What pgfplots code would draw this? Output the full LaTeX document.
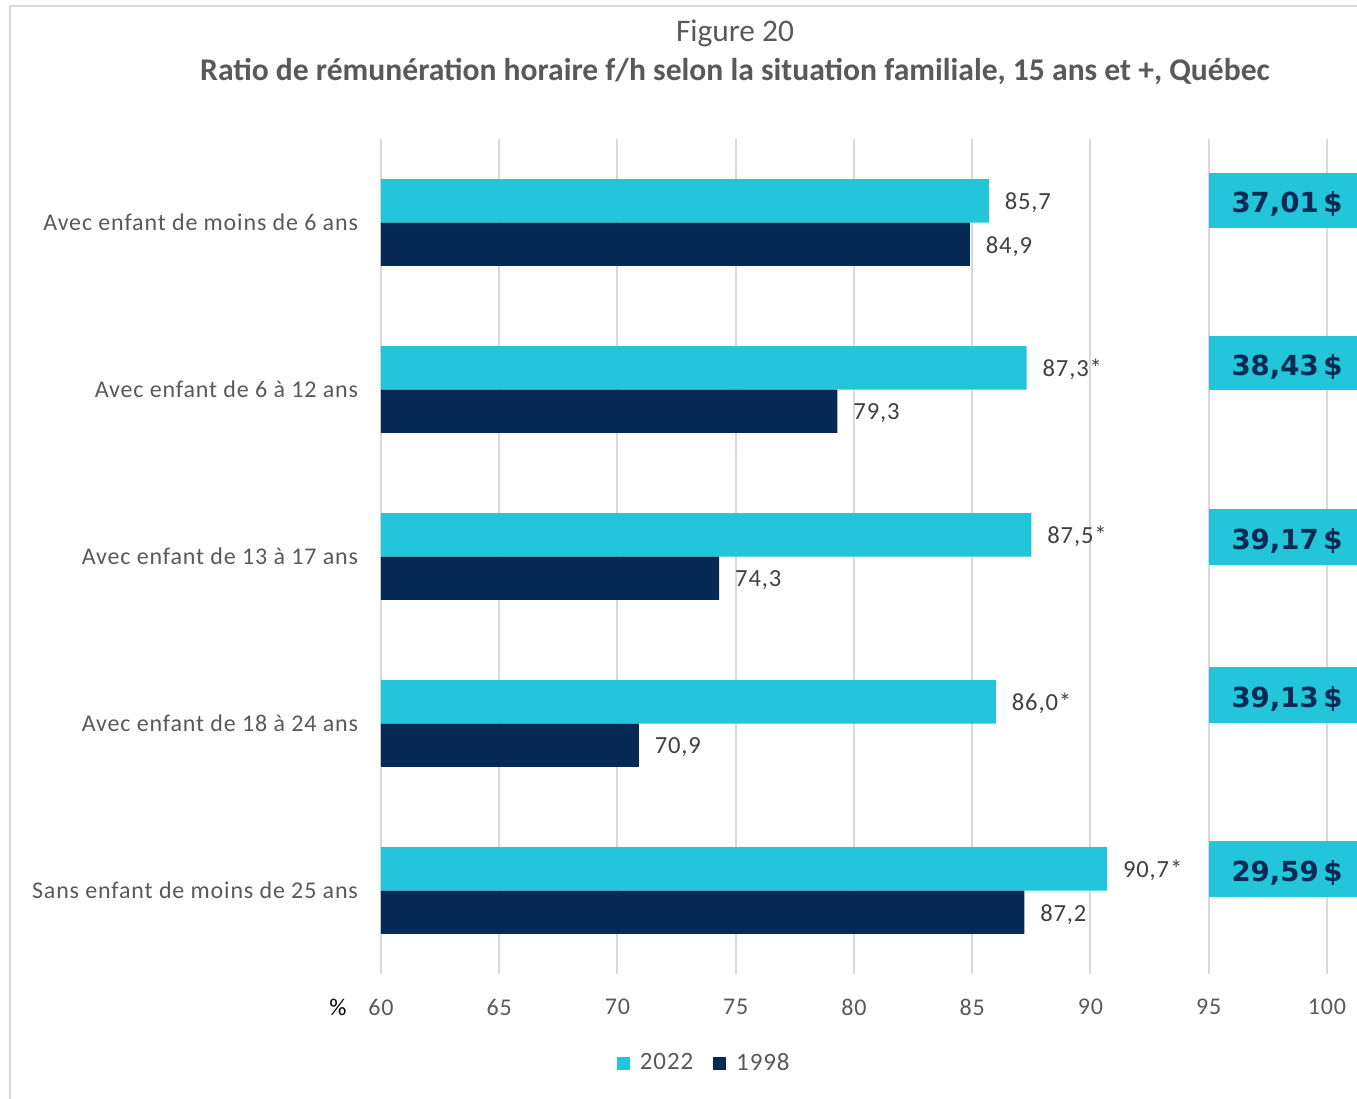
\documentclass[border=0pt]{standalone}
\usepackage{pgfplots}
\pgfplotsset{compat=1.18}
\usepackage{pgfplotstable}
\usepackage{fontspec}
\setmainfont{Carlito}
\newfontfamily\lsp[LetterSpace=3.5]{Carlito}
\newfontfamily\verd{DejaVu Sans}
\definecolor{cy}{HTML}{22C5D9}
\definecolor{nv}{HTML}{062A55}
\definecolor{txt}{HTML}{595959}
\definecolor{lab}{HTML}{404040}
\definecolor{grd}{HTML}{D9D9D9}

\pgfplotstableread{
y x lab
-0.13 85.7 85,7
0.87 87.3 87,3*
1.87 87.5 87,5*
2.87 86.0 86,0*
3.87 90.7 90,7*
}\tnew
\pgfplotstableread{
y x lab
0.13 84.9 84,9
1.13 79.3 79,3
2.13 74.3 74,3
3.13 70.9 70,9
4.13 87.2 87,2
}\told

\begin{document}
\begin{tikzpicture}
\useasboundingbox (0,0) rectangle (678.5pt,549.5pt);
\draw[grd, line width=1pt] (5pt,0) -- (5pt,546.5pt) -- (700pt,546.5pt);
\node[txt, font=\fontsize{15.7}{18}\selectfont] at (367.5pt,533pt) {Figure 20};
\node[txt, font=\fontsize{15.8}{18}\selectfont\bfseries] at (367.5pt,513.5pt) {Ratio de rémunération horaire f/h selon la situation familiale, 15 ans et +, Québec};
\node[black, font=\lsp\fontsize{12}{14}\selectfont] at (169pt,46pt) {\%};
\begin{axis}[at={(190.5pt,62.5pt)}, anchor=south west, scale only axis,
  width=488pt, height=417.5pt,
  xmin=60, xmax=101.27, ymin=-0.5, ymax=4.5, y dir=reverse,
  xtick={60,65,...,100}, ytick={0,1,2,3,4},
  yticklabels={Avec enfant de moins de 6 ans, Avec enfant de 6 à 12 ans, Avec enfant de 13 à 17 ans, Avec enfant de 18 à 24 ans, Sans enfant de moins de 25 ans},
  xmajorgrids, major grid style={grd, line width=1pt},
  axis line style={draw=none}, major tick length=0pt,
  tick label style={txt, font=\lsp\fontsize{12}{14}\selectfont},
  /pgf/number format/assume math mode=true,
  xticklabel style={yshift=-9pt}, yticklabel style={xshift=-8pt},
  legend style={at={(0.324,-0.1066)}, anchor=center, xshift=4pt, draw=none, legend columns=-1,
    font=\lsp\fontsize{12.5}{14}\selectfont, text=txt,
    /tikz/every even column/.append style={column sep=8pt}},
  legend image code/.code={\fill[#1] (-3pt,-3.25pt) rectangle (3.5pt,3.25pt);},
]
\addplot[xbar, bar width=0.26, bar shift=0pt, fill=cy, draw=none,
  nodes near coords, point meta=explicit symbolic,
  nodes near coords style={lab, font=\lsp\fontsize{12.3}{14}\selectfont, anchor=west, xshift=4.5pt, yshift=-1pt}]
  table[x=x, y=y, meta=lab] {\tnew};
\addlegendentry{\hspace{3pt}2022}
\addplot[xbar, bar width=0.26, bar shift=0pt, fill=nv, draw=none,
  nodes near coords, point meta=explicit symbolic,
  nodes near coords style={lab, font=\lsp\fontsize{12.3}{14}\selectfont, anchor=west, xshift=4.5pt, yshift=-1pt}]
  table[x=x, y=y, meta=lab] {\told};
\addlegendentry{\hspace{3pt}1998}
\addplot[fill=cy, draw=none, mark=none, forget plot] coordinates {(95,-0.2964) (102,-0.2964) (102,0.0329) (95,0.0329)};
\addplot[fill=cy, draw=none, mark=none, forget plot] coordinates {(95,0.6796) (102,0.6796) (102,1.003) (95,1.003)};
\addplot[fill=cy, draw=none, mark=none, forget plot] coordinates {(95,1.7156) (102,1.7156) (102,2.0509) (95,2.0509)};
\addplot[fill=cy, draw=none, mark=none, forget plot] coordinates {(95,2.6617) (102,2.6617) (102,2.997) (95,2.997)};
\addplot[fill=cy, draw=none, mark=none, forget plot] coordinates {(95,3.7036) (102,3.7036) (102,4.039) (95,4.039)};
\begin{scope}[every node/.style={anchor=base east, inner sep=0pt, text=nv, font=\verd\bfseries\fontsize{13.8}{16}\selectfont}]
\node at (axis cs:100.68,-0.057) {37,01\,\$};
\node at (axis cs:100.68,0.916) {38,43\,\$};
\node at (axis cs:100.68,1.958) {39,17\,\$};
\node at (axis cs:100.68,2.904) {39,13\,\$};
\node at (axis cs:100.68,3.946) {29,59\,\$};
\end{scope}
\end{axis}
\end{tikzpicture}
\end{document}
